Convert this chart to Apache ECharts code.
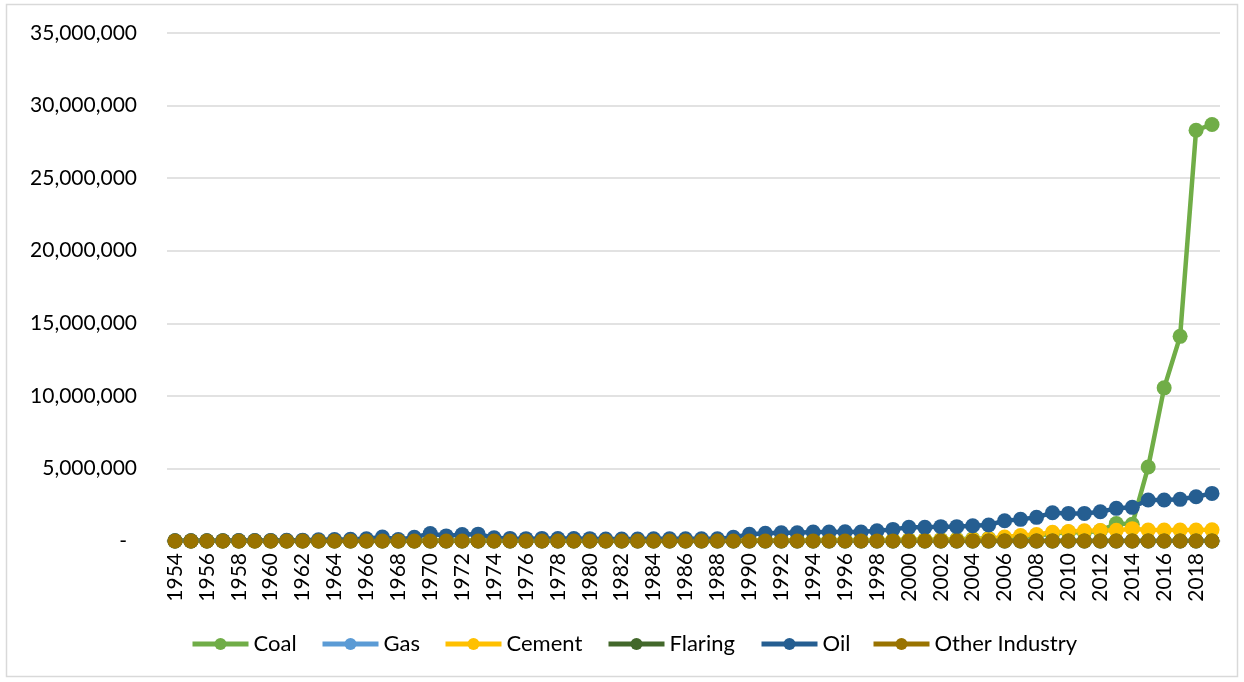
<!DOCTYPE html>
<html>
<head>
<meta charset="utf-8">
<script src="https://cdn.jsdelivr.net/npm/echarts@6/dist/echarts.min.js"></script>
<style>
  html, body { margin: 0; padding: 0; background: #fff; }
  #chart { width: 1244px; height: 682px; }
</style>
</head>
<body>
<div id="chart"></div>
<script>
// Emissions by source, 1954–2019
const years = [
  '1954','1955','1956','1957','1958','1959','1960','1961','1962','1963',
  '1964','1965','1966','1967','1968','1969','1970','1971','1972','1973',
  '1974','1975','1976','1977','1978','1979','1980','1981','1982','1983',
  '1984','1985','1986','1987','1988','1989','1990','1991','1992','1993',
  '1994','1995','1996','1997','1998','1999','2000','2001','2002','2003',
  '2004','2005','2006','2007','2008','2009','2010','2011','2012','2013',
  '2014','2015','2016','2017','2018','2019'
];

const coal = [
  10000, 12000, 15000, 15000, 18000, 20000, 20000, 22000, 22000, 25000,
  25000, 28000, 30000, 30000, 30000, 32000, 35000, 35000, 38000, 40000,
  40000, 40000, 42000, 42000, 45000, 45000, 45000, 48000, 48000, 50000,
  50000, 50000, 52000, 52000, 55000, 55000, 55000, 58000, 60000, 60000,
  62000, 65000, 65000, 68000, 70000, 70000, 80000, 90000, 100000, 120000,
  150000, 180000, 200000, 280000, 380000, 500000, 620000, 580000, 700000, 1200000,
  1150000, 5100000, 10550000, 14100000, 28300000, 28700000
];

const gas = [
  0, 0, 0, 0, 0, 0, 0, 0, 0, 0,
  0, 0, 0, 0, 0, 0, 0, 0, 0, 0,
  0, 0, 0, 0, 0, 0, 0, 0, 0, 0,
  0, 0, 0, 0, 0, 0, 0, 0, 0, 0,
  0, 0, 0, 0, 0, 0, 0, 0, 0, 0,
  0, 0, 0, 0, 0, 0, 0, 0, 0, 0,
  0, 0, 0, 0, 0, 0
];

const cement = [
  5000, 5000, 6000, 6000, 7000, 7000, 8000, 8000, 9000, 9000,
  10000, 10000, 11000, 11000, 12000, 12000, 13000, 13000, 14000, 14000,
  15000, 15000, 16000, 16000, 17000, 18000, 19000, 20000, 21000, 22000,
  23000, 24000, 25000, 26000, 28000, 30000, 32000, 34000, 36000, 38000,
  40000, 45000, 50000, 55000, 60000, 65000, 70000, 75000, 80000, 90000,
  100000, 150000, 280000, 380000, 450000, 600000, 650000, 700000, 720000, 740000,
  850000, 760000, 760000, 760000, 760000, 770000
];

const flaring = [
  0, 0, 0, 0, 0, 0, 0, 0, 0, 0,
  0, 0, 0, 0, 0, 0, 0, 0, 0, 0,
  0, 0, 0, 0, 0, 0, 0, 0, 0, 0,
  0, 0, 0, 0, 0, 0, 0, 0, 0, 0,
  0, 0, 0, 0, 0, 0, 0, 0, 0, 0,
  0, 0, 0, 0, 0, 0, 0, 0, 0, 0,
  0, 0, 0, 0, 0, 0
];

const oil = [
  10000, 12000, 20000, 25000, 30000, 35000, 40000, 50000, 60000, 80000,
  100000, 120000, 150000, 270000, 100000, 250000, 520000, 350000, 450000, 470000,
  220000, 180000, 160000, 180000, 170000, 170000, 160000, 140000, 140000, 140000,
  150000, 150000, 150000, 150000, 150000, 250000, 460000, 530000, 570000, 570000,
  620000, 620000, 640000, 620000, 710000, 800000, 940000, 940000, 990000, 990000,
  1050000, 1100000, 1400000, 1490000, 1630000, 1950000, 1900000, 1900000, 2020000, 2250000,
  2320000, 2820000, 2820000, 2870000, 3050000, 3280000
];

const otherIndustry = [
  0, 0, 0, 0, 0, 0, 0, 0, 0, 0,
  0, 0, 0, 0, 0, 0, 0, 0, 0, 0,
  0, 0, 0, 0, 0, 0, 0, 0, 0, 0,
  0, 0, 0, 0, 0, 0, 0, 0, 0, 0,
  0, 0, 0, 0, 0, 0, 0, 0, 0, 0,
  0, 0, 0, 0, 0, 0, 0, 0, 0, 0,
  0, 0, 0, 0, 0, 0
];

const seriesDefs = [
  { name: 'Coal', data: coal, color: '#70AD47' },
  { name: 'Gas', data: gas, color: '#5B9BD5' },
  { name: 'Cement', data: cement, color: '#FFC000' },
  { name: 'Flaring', data: flaring, color: '#43682B' },
  { name: 'Oil', data: oil, color: '#255E91' },
  { name: 'Other Industry', data: otherIndustry, color: '#997300' }
];

// left edge of each legend entry along the bottom row
const legendLefts = [190, 320, 443, 606, 759, 871];

const FONT = 'Lato, "Open Sans", sans-serif';

const chart = echarts.init(document.getElementById('chart'), null, { renderer: 'canvas' });

chart.setOption({
  animation: false,
  backgroundColor: '#fff',
  graphic: [{
    type: 'rect',
    shape: { x: 6.5, y: 4.5, width: 1231, height: 672 },
    style: { fill: 'none', stroke: '#D9D9D9', lineWidth: 1.5 },
    silent: true
  }],
  grid: { left: 167, right: 24, top: 33, bottom: 141, containLabel: false },
  legend: seriesDefs.map((s, i) => ({
    left: legendLefts[i],
    top: 633,
    padding: 0,
    itemWidth: 56,
    itemHeight: 15,
    lineStyle: { width: 5 },
    textStyle: { fontFamily: FONT, fontSize: 22, color: '#000' },
    data: [s.name]
  })),
  xAxis: {
    type: 'category',
    data: years,
    boundaryGap: true,
    axisLine: { show: true, lineStyle: { color: '#D9D9D9', width: 1.5 } },
    axisTick: { show: false },
    axisLabel: {
      interval: 1,
      rotate: 90,
      margin: 12,
      fontFamily: FONT,
      fontSize: 21,
      color: '#000'
    }
  },
  yAxis: {
    type: 'value',
    min: 0,
    max: 35000000,
    interval: 5000000,
    axisLine: { show: false },
    axisTick: { show: false },
    splitLine: { lineStyle: { color: '#D9D9D9', width: 1.5 } },
    axisLabel: {
      margin: 30,
      fontFamily: FONT,
      fontSize: 21,
      color: '#000',
      formatter: v => v === 0 ? '{d|-}' : v.toLocaleString('en-US'),
      rich: { d: { fontFamily: FONT, fontSize: 21, color: '#000', padding: [0, 10, 0, 0] } }
    }
  },
  series: seriesDefs.map(s => ({
    name: s.name,
    type: 'line',
    data: s.data,
    symbol: 'circle',
    symbolSize: 15,
    showAllSymbol: true,
    color: s.color,
    lineStyle: { color: s.color, width: 4.5 },
    itemStyle: { color: s.color },
    emphasis: { disabled: true }
  }))
});
</script>
</body>
</html>
